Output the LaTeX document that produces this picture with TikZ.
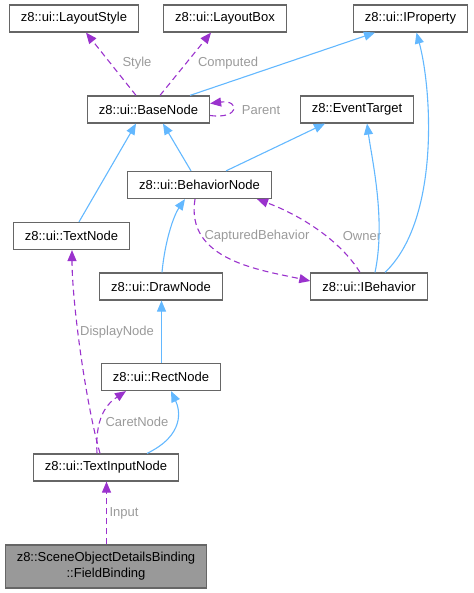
\documentclass[tikz,border=0pt]{standalone}
\usepackage{fontspec}
\setmainfont{Liberation Sans}
\usetikzlibrary{arrows.meta,calc}
\definecolor{edgeblue}{HTML}{63B8FF}
\definecolor{edgepurple}{HTML}{9A32CD}
\definecolor{boxgray}{HTML}{666666}
\definecolor{labelgray}{HTML}{9A9A9A}
\definecolor{fillgray}{HTML}{999999}
\begin{document}
\begin{tikzpicture}[x=1pt,y=-1pt,
	cls/.style={draw=boxgray,line width=1.2pt,fill=white,inner xsep=11.5pt,inner ysep=0pt,minimum height=27pt,font=\fontsize{13}{16}\selectfont},
	inh/.style={draw=edgeblue,line width=1.1pt,-{Triangle[length=11pt,width=9pt]}},
	use/.style={draw=edgepurple,line width=1.1pt,dash pattern=on 6pt off 4pt,-{Triangle[length=11pt,width=9pt]}},
	lbl/.style={text=labelgray,inner sep=0pt,font=\fontsize{13}{16}\selectfont}]
		\useasboundingbox (0,0) rectangle (473,593);

		\node[cls] (style) at (74,18.5) {z8::ui::LayoutStyle};
		\node[cls] (box) at (225,18.5) {z8::ui::LayoutBox};
		\node[cls] (prop) at (410.5,18.5) {z8::ui::IProperty};

		\node[cls] (base) at (148.5,109.5) {z8::ui::BaseNode};
		\node[cls] (event) at (357,109.5) {z8::EventTarget};

		\node[cls] (behav) at (199.5,185) {z8::ui::BehaviorNode};
		\node[cls] (textn) at (71.5,236) {z8::ui::TextNode};

		\node[cls] (drawn) at (161,286.5) {z8::ui::DrawNode};
		\node[cls] (ibeh) at (369,286.5) {z8::ui::IBehavior};

		\node[cls] (rect) at (161,377) {z8::ui::RectNode};
		\node[cls] (input) at (106,467.5) {z8::ui::TextInputNode};
		\node[cls,fill=fillgray,align=center,minimum height=43pt] (field) at (106,566.5) {z8::SceneObjectDetailsBinding\\::FieldBinding};

		\node[lbl] (lstyle) at (137,63) {Style};
		\node[lbl] (lcomp) at (228,63) {Computed};
		\node[lbl] (lparent) at (261,110) {Parent};
		\node[lbl] (lcapt) at (257,236) {CapturedBehavior};
		\node[lbl] (lowner) at (362,236) {Owner};
		\node[lbl] (ldisp) at (117,332) {DisplayNode};
		\node[lbl] (lcaret) at (137,422) {CaretNode};
		\node[lbl] (linput) at (124,513) {Input};

		\draw[use] ($(base.north)+(-12.5,0)$) -- ($(style.south)+(12,0)$);
		\draw[use] ($(base.north)+(11.5,0)$) -- ($(box.south)+(-14,0)$);
		\draw[inh] ($(base.north)+(41.5,0)$) -- ($(prop.south)+(-35.5,0)$);
		\draw[use] ($(base.east)+(0,6)$) .. controls +(30,4) and +(30,-4) .. ($(base.east)+(0,-6)$);
		\draw[inh] ($(textn.north)+(7.5,0)$) -- ($(base.south)+(-12.5,0)$);
		\draw[inh] ($(behav.north)+(-8.5,0)$) -- ($(base.south)+(14.5,0)$);
		\draw[inh] ($(behav.north)+(26.5,0)$) -- ($(event.south)+(-32,0)$);
		\draw[inh] ($(ibeh.north)+(6,0)$) .. controls (386,220) and (372,160) .. ($(event.south)+(10,0)$);
		\draw[inh] ($(ibeh.north)+(16,0)$) .. controls (440,220) and (432,90) .. ($(prop.south)+(6,0)$);
		\draw[inh] ($(drawn.north)+(1,0)$) .. controls (165,240) and (174,215) .. ($(behav.south)+(-14.5,0)$);
		\draw[use] ($(behav.south)+(-4.5,0)$) .. controls (185,260) and (260,270) .. ($(ibeh.west)+(0,-5.5)$);
		\draw[use] ($(ibeh.north)+(-9,0)$) .. controls (340,240) and (300,215) .. ($(behav.south)+(57.5,0)$);
		\draw[use] ($(input.north)+(-6,0)$) .. controls (85,400) and (72,300) .. ($(textn.south)+(0.5,0)$);
		\draw[use] ($(input.north)+(-9,0)$) .. controls (95,420) and (105,405) .. ($(rect.south)+(-35,0)$);
		\draw[inh] ($(input.north)+(41,0)$) .. controls (185,435) and (180,410) .. ($(rect.south)+(10,0)$);
		\draw[inh] ($(rect.north)+(0.5,0)$) -- ($(drawn.south)+(0.5,0)$);
		\draw[use] ($(field.north)+(0.5,0)$) -- ($(input.south)+(0.5,0)$);
\end{tikzpicture}
\end{document}
